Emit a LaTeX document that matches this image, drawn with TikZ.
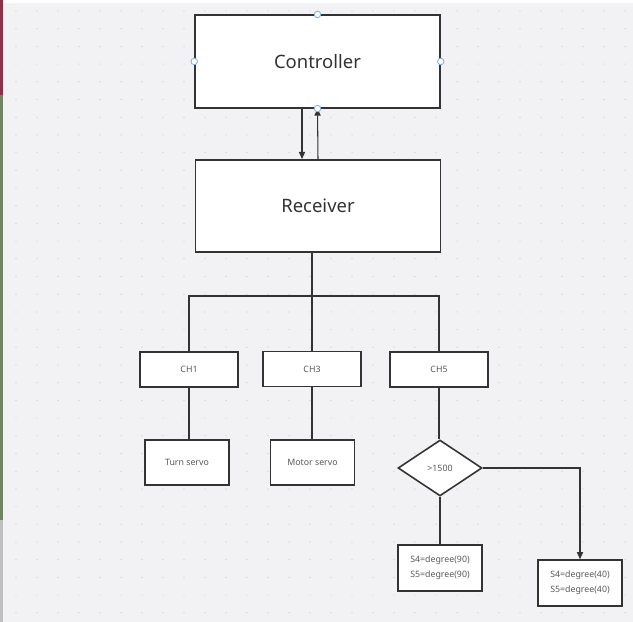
\documentclass[tikz,border=0pt]{standalone}
\usepackage{fontspec}
\setmainfont{Noto Sans}
\usetikzlibrary{shapes.geometric,arrows.meta}
\definecolor{canvas}{HTML}{F2F2F4}
\definecolor{handleblue}{HTML}{7FB2E5}
\definecolor{leftred}{HTML}{8E3048}
\definecolor{leftgreen}{HTML}{6E8463}

\begin{document}
\begin{tikzpicture}[x=0.02cm,y=-0.02cm,
    bigbox/.style={draw=black!80,line width=0.9pt,fill=white,minimum width=4.9cm,minimum height=1.85cm,inner sep=0pt,font=\fontsize{10.5}{12}\selectfont,text=black!80},
    chbox/.style={draw=black!80,line width=0.9pt,fill=white,minimum width=1.96cm,minimum height=0.7cm,inner sep=0pt,font=\fontsize{5}{6}\selectfont,text=black!65},
    servobox/.style={chbox,minimum width=1.68cm,minimum height=0.9cm},
    setbox/.style={servobox,minimum height=0.92cm,align=center,font=\fontsize{5}{8.5}\selectfont},
    check/.style={diamond,draw=black!80,line width=0.9pt,fill=white,minimum width=1.68cm,minimum height=1.12cm,inner sep=0pt,font=\fontsize{5}{6}\selectfont,text=black!65},
    wire/.style={draw=black!80,line width=0.6pt},
    arr/.style={wire,-{Triangle[length=4pt,width=3.5pt]}},
    handle/.style={circle,draw=handleblue,fill=white,line width=0.5pt,inner sep=0pt,minimum size=0.13cm}]

  % canvas
  \useasboundingbox (0,0) rectangle (633,622);
  \fill[white] (0,0) rectangle (633,622);
  \fill[canvas] (3,3) rectangle (633,622);
  \fill[leftred] (0,0) rectangle (3,95);
  \fill[leftgreen] (0,95) rectangle (3,520);
  \fill[black!25] (0,520) rectangle (3,622);
  \foreach \i in {0,...,29}
    \foreach \j in {0,...,34}
      \fill[black!22] (16+21*\i,11+17.7*\j) circle (0.6);

  % boxes
  \node[bigbox] (ctrl) at (317.5,61.5) {Controller};
  \node[bigbox] (rec) at (318,206) {Receiver};
  \node[chbox] (ch1) at (189,369.5) {CH1};
  \node[chbox] (ch3) at (312,369) {CH3};
  \node[chbox] (ch5) at (439,369.5) {CH5};
  \node[servobox] (turn) at (187,462.5) {Turn servo};
  \node[servobox] (motor) at (312.5,462.5) {Motor servo};
  \node[check] (gt) at (440,468) {>1500};
  \node[setbox] (deg90) at (440,568) {S4=degree(90)\\S5=degree(90)};
  \node[setbox] (deg40) at (580,583) {S4=degree(40)\\S5=degree(40)};
  \coordinate (bus) at (312,296);

  % connectors
  \draw[arr] (ctrl.south -| 302,0) -- (rec.north -| 302,0);
  \draw[arr] (rec.north) -- (ctrl.south);
  \draw[wire] (rec.south -| bus) -- (bus);
  \draw[wire] (ch1.north) |- (bus) -| (ch5.north);
  \draw[wire] (bus) -- (ch3.north);
  \draw[wire] (ch1) -- (ch1 |- turn.north);
  \draw[wire] (ch3) -- (ch3 |- motor.north);
  \draw[wire] (ch5.south) -- (ch5.south |- gt.north);
  \draw[wire] (gt.south) -- (deg90.north);
  \draw[arr] (gt.east) -| (deg40.north);

  % selection handles
  \foreach \a in {north,west,east,south}
    \node[handle] at (ctrl.\a) {};
\end{tikzpicture}
\end{document}
